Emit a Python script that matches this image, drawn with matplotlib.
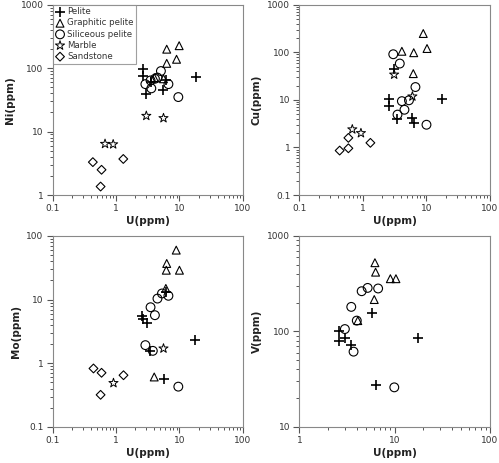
import numpy as np
import matplotlib
import matplotlib.pyplot as plt
from matplotlib.ticker import FixedLocator, FuncFormatter, NullFormatter

# ---- Ni vs U ----
ni_pel_u = [2.7, 2.7, 3.0, 3.5, 5.6, 6.1, 18.2]
ni_pel = [97, 75, 39, 60, 45, 65, 72]
ni_gra_u = [4.0, 5.6, 6.3, 6.3, 9.0, 9.9]
ni_gra = [71, 68, 119, 199, 138, 226]
ni_sil_u = [2.9, 3.5, 3.6, 4.1, 4.5, 5.1, 6.7, 9.6]
ni_sil = [56, 64, 48, 68, 71, 90, 56, 35]
ni_mar_u = [0.67, 0.90, 3.0, 5.6]
ni_mar = [6.4, 6.3, 17.7, 16.3]
ni_san_u = [0.43, 0.59, 0.57, 1.30]
ni_san = [3.3, 2.5, 1.36, 3.7]

# ---- Cu vs U ----
cu_pel_u = [2.6, 2.6, 3.05, 3.4, 5.9, 6.3, 17.3]
cu_pel = [10.2, 7.3, 45, 3.9, 4.2, 3.3, 10.2]
cu_gra_u = [4.1, 6.2, 6.3, 8.9, 10.2]
cu_gra = [105, 35.6, 98, 248, 120]
cu_sil_u = [3.0, 3.5, 3.8, 4.1, 4.5, 5.3, 6.7, 10.0]
cu_sil = [91, 4.9, 58, 9.4, 6.2, 9.8, 18.6, 3.0]
cu_mar_u = [0.68, 0.93, 3.1, 6.0]
cu_mar = [2.4, 2.0, 34, 11.8]
cu_san_u = [0.43, 0.59, 0.59, 1.31]
cu_san = [0.86, 0.96, 1.59, 1.25]

# ---- Mo vs U ----
mo_pel_u = [2.6, 2.65, 3.05, 3.4, 5.8, 6.2, 17.3]
mo_pel = [5.6, 5.0, 4.3, 1.55, 0.57, 13.3, 2.3]
mo_gra_u = [4.0, 6.1, 6.2, 6.3, 8.9, 10.0]
mo_gra = [0.61, 15, 29, 37, 60, 29]
mo_sil_u = [2.9, 3.5, 3.8, 4.1, 4.5, 5.3, 6.7, 9.6]
mo_sil = [1.93, 7.6, 1.57, 5.7, 10.4, 12.5, 11.5, 0.43]
mo_mar_u = [0.91, 5.6]
mo_mar = [0.49, 1.71]
mo_san_u = [0.44, 0.59, 0.57, 1.31]
mo_san = [0.83, 0.71, 0.32, 0.65]

# ---- V vs U ----
v_pel_u = [2.6, 2.6, 3.0, 3.5, 5.8, 6.3, 17.4]
v_pel = [100, 79, 85, 72, 156, 27.5, 85]
v_gra_u = [4.1, 6.1, 6.2, 6.3, 9.0, 10.3]
v_gra = [130, 216, 525, 418, 357, 357]
v_sil_u = [3.0, 3.5, 3.7, 4.0, 4.5, 5.2, 6.7, 9.9]
v_sil = [106, 181, 61.5, 130, 264, 286, 282, 26]

labels = ['Pelite', 'Graphitic pelite', 'Siliceous pelite', 'Marble', 'Sandstone']

matplotlib.rcdefaults()
plt.rcParams.update({
    'font.family': 'DejaVu Sans',
    'xtick.direction': 'out', 'ytick.direction': 'out',
    'xtick.major.size': 4, 'ytick.major.size': 4,
    'xtick.minor.size': 2.5, 'ytick.minor.size': 2.5,
    'xtick.major.width': 0.8, 'ytick.major.width': 0.8,
    'xtick.minor.width': 0.7, 'ytick.minor.width': 0.7,
    'xtick.color': '#555555', 'ytick.color': '#555555',
    'xtick.labelcolor': '#333333', 'ytick.labelcolor': '#333333',
    'xtick.labelsize': 6.5, 'ytick.labelsize': 6.5,
    'xtick.major.pad': 2.5, 'ytick.major.pad': 2.5,
    'xtick.minor.visible': True, 'ytick.minor.visible': True,
})

fig = plt.figure(figsize=(4.99, 4.63), dpi=100)

axes = [fig.add_axes([0.1056, 0.5788, 0.381, 0.411]),
        fig.add_axes([0.600, 0.5788, 0.382, 0.411]),
        fig.add_axes([0.1056, 0.0778, 0.381, 0.4125]),
        fig.add_axes([0.600, 0.0778, 0.382, 0.4125])]

styles = [dict(marker='+', s=48, c='black', linewidths=1.2),
          dict(marker='^', s=32, facecolors='none', edgecolors='black', linewidths=0.8),
          dict(marker='o', s=40, facecolors='none', edgecolors='black', linewidths=0.8),
          dict(marker='*', s=48, facecolors='none', edgecolors='black', linewidths=0.7),
          dict(marker='D', s=20, facecolors='none', edgecolors='black', linewidths=0.8)]

panels = [
    (axes[0], [(ni_pel_u, ni_pel), (ni_gra_u, ni_gra), (ni_sil_u, ni_sil), (ni_mar_u, ni_mar), (ni_san_u, ni_san)],
     'Ni(ppm)', (0.1, 100), (1, 1000)),
    (axes[1], [(cu_pel_u, cu_pel), (cu_gra_u, cu_gra), (cu_sil_u, cu_sil), (cu_mar_u, cu_mar), (cu_san_u, cu_san)],
     'Cu(ppm)', (0.1, 100), (0.1, 1000)),
    (axes[2], [(mo_pel_u, mo_pel), (mo_gra_u, mo_gra), (mo_sil_u, mo_sil), (mo_mar_u, mo_mar), (mo_san_u, mo_san)],
     'Mo(ppm)', (0.1, 100), (0.1, 100)),
    (axes[3], [(v_pel_u, v_pel), (v_gra_u, v_gra), (v_sil_u, v_sil)],
     'V(ppm)', (1, 100), (10, 1000)),
]

fmt = FuncFormatter(lambda v, p: '%g' % v)


def decade_ticks(lo, hi):
    e = np.arange(np.log10(lo), np.log10(hi) + 1)
    major = [10.0 ** k for k in e if 10.0 ** k <= hi * 1.0001]
    minor = [m * 10.0 ** k for k in e[:-1] for m in range(2, 10)]
    return major, minor


for ax, series, ylab, xl, yl in panels:
    for i, (xs, ys) in enumerate(series):
        ax.scatter(xs, ys, label=labels[i], **styles[i])
    ax.set_xscale('log')
    ax.set_yscale('log')
    ax.set_xlim(*xl)
    ax.set_ylim(*yl)
    xmaj, xmin = decade_ticks(*xl)
    ymaj, ymin = decade_ticks(*yl)
    ax.xaxis.set_major_locator(FixedLocator(xmaj))
    ax.yaxis.set_major_locator(FixedLocator(ymaj))
    ax.xaxis.set_minor_locator(FixedLocator(xmin))
    ax.yaxis.set_minor_locator(FixedLocator(ymin))
    ax.xaxis.set_major_formatter(fmt)
    ax.yaxis.set_major_formatter(fmt)
    ax.xaxis.set_minor_formatter(NullFormatter())
    ax.yaxis.set_minor_formatter(NullFormatter())
    for sp in ax.spines.values():
        sp.set_color('#888888')
        sp.set_linewidth(0.8)
    ax.set_xlabel('U(ppm)', fontsize=7.5, fontweight='bold', color='#222222', labelpad=2)
    ax.set_ylabel(ylab, fontsize=7.5, fontweight='bold', color='#222222', labelpad=4)

leg = axes[0].legend(loc='upper left', fontsize=6.2, frameon=True, fancybox=False,
                     borderaxespad=0, handletextpad=0.3, labelspacing=0.25,
                     borderpad=0.3, handlelength=1.1, scatterpoints=1)
leg.get_frame().set_edgecolor('#888888')
leg.get_frame().set_linewidth(0.8)
for t in leg.get_texts():
    t.set_color('#333333')

fig.savefig('out.png', dpi=100)
